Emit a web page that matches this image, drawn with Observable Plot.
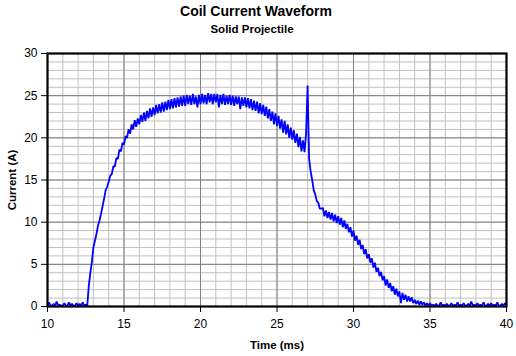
<!DOCTYPE html>
<html>
<head>
<meta charset="utf-8">
<script src="https://cdn.jsdelivr.net/npm/d3@7"></script>
<script src="https://cdn.jsdelivr.net/npm/@observablehq/plot@0.6"></script>
<style>
  html, body { margin: 0; padding: 0; background: #fff; }
  #wrap { width: 516px; height: 356px; position: relative; overflow: hidden; font-family: "Liberation Sans", Arial, sans-serif; }
  #head { position: relative; height: 40px; width: 516px; }
  #title { position: absolute; top: 3px; left: 0; width: 512px; text-align: center; font-weight: bold; font-size: 14px; line-height: 16px; }
  #subtitle { position: absolute; top: 22px; left: 0; width: 504px; text-align: center; font-weight: bold; font-size: 11.5px; line-height: 14px; }
  svg { display: block; }
</style>
</head>
<body>
<div id="wrap">
  <div id="head">
    <div id="title">Coil Current Waveform</div>
    <div id="subtitle">Solid Projectile</div>
  </div>
  <div id="chart"></div>
</div>
<script>
// Sampling: time starts at 10 ms, one reading every 0.1 ms
const tStart = 10;
const tStep = 0.1;
// Coil current (A), 10.0 ms ... 40.0 ms
const current = [
  0.1,0.5,0.1,0.1,0.3,0.1,0.6,0.1,0.2,0.1,
  0.1,0.4,0.1,0.1,0.5,0.1,0.3,0.1,0.1,0.4,
  0.1,0.3,0.1,0.5,0.1,0.2,0.1,2.5,4.0,5.3,
  7.0,7.8,8.6,9.6,10.2,11.0,11.9,12.8,13.8,14.2,
  14.8,15.5,15.7,16.6,16.6,17.6,17.5,18.6,18.4,19.4,
  19.2,20.2,20.0,21.0,20.5,21.6,21.0,22.1,21.3,22.3,
  21.6,22.7,21.9,23.0,22.0,23.2,22.3,23.5,22.5,23.6,
  22.7,23.9,22.9,24.0,23.0,24.2,23.1,24.3,23.3,24.5,
  23.4,24.6,23.5,24.7,23.6,24.8,23.7,24.9,23.8,25.0,
  23.8,25.1,24.0,25.0,23.9,25.2,24.0,24.9,23.6,25.1,
  24.0,25.2,24.1,25.1,24.0,25.3,24.2,25.2,24.0,25.2,
  24.2,25.2,23.6,25.1,24.0,25.2,23.9,25.0,24.0,25.1,
  23.9,25.0,23.8,24.9,24.0,24.9,23.4,24.8,23.8,24.8,
  23.6,24.7,23.5,24.6,23.3,24.4,23.2,24.3,22.9,24.1,
  22.8,23.9,22.6,23.7,22.3,23.4,22.0,23.1,21.6,22.9,
  21.4,22.6,21.1,22.2,20.6,22.0,20.4,21.6,20.0,21.2,
  19.8,20.9,19.4,20.5,18.9,20.1,18.4,19.7,18.3,20.5,
  26.2,17.5,16.0,15.0,13.8,13.3,12.5,12.3,11.6,11.6,
  11.7,10.7,11.4,10.5,11.2,10.3,11.1,10.1,10.9,9.9,
  10.7,9.7,10.5,9.4,10.2,9.2,9.8,8.8,9.4,8.3,
  9.0,7.8,8.4,7.3,7.9,6.8,7.3,6.2,6.8,5.7,
  6.2,5.2,5.7,4.6,5.2,4.1,4.6,3.6,4.1,3.1,
  3.6,2.5,3.2,2.2,2.8,1.8,2.4,1.4,2.1,1.2,
  1.8,0.4,1.6,0.8,1.4,0.6,1.2,0.6,1.1,0.4,
  0.8,0.3,0.7,0.2,0.6,0.2,0.5,0.1,0.4,0.1,
  0.4,0.1,0.2,0.1,0.3,0.1,0.1,0.5,0.1,0.2,
  0.1,0.3,0.1,0.1,0.4,0.1,0.2,0.1,0.5,0.1,
  0.2,0.1,0.4,0.1,0.1,0.3,0.1,0.6,0.1,0.2,
  0.1,0.4,0.1,0.2,0.1,0.5,0.1,0.1,0.3,0.1,
  0.4,0.1,0.2,0.1,0.5,0.1,0.1,0.3,0.1,0.4,
  0.2
];
const xTicks = [10, 15, 20, 25, 30, 35, 40];
const yTicks = [0, 5, 10, 15, 20, 25, 30];
const xMinor = d3.range(10, 41, 1);
const yMinor = d3.range(0, 31, 1);

const data = current.map((c, i) => ({t: +(tStart + i * tStep).toFixed(2), c}));

const chart = Plot.plot({
  width: 516,
  height: 316,
  marginTop: 13,
  marginBottom: 50,
  marginLeft: 47,
  marginRight: 10,
  style: {fontFamily: "'Liberation Sans', Arial, sans-serif", fontSize: "12px", color: "#000", background: "#fff"},
  x: {domain: [10, 40]},
  y: {domain: [0, 30]},
  marks: [
    Plot.ruleX(xMinor, {stroke: "#c0c0c0", strokeWidth: 1}),
    Plot.ruleY(yMinor, {stroke: "#c0c0c0", strokeWidth: 1}),
    Plot.ruleX(xTicks, {stroke: "#808080", strokeWidth: 1}),
    Plot.ruleY(yTicks, {stroke: "#808080", strokeWidth: 1}),
    Plot.line(data, {x: "t", y: "c", stroke: "#0000ff", strokeWidth: 1.8, strokeLinejoin: "miter"}),
    Plot.frame({stroke: "#000", strokeWidth: 2.2}),
    Plot.axisX({ticks: xTicks, tickSize: 6, tickPadding: 7, stroke: "#000", strokeWidth: 1, fontSize: 12,
      label: "Time (ms)", labelAnchor: "center", labelArrow: "none", labelOffset: 42}),
    Plot.axisY({ticks: yTicks, tickSize: 6, tickPadding: 4, stroke: "#000", strokeWidth: 1, fontSize: 12,
      label: "Current (A)", labelAnchor: "center", labelArrow: "none", labelOffset: 40})
  ]
});
chart.querySelectorAll("[aria-label='x-axis label'], [aria-label='y-axis label']").forEach(g => {
  g.setAttribute("font-weight", "bold");
  g.setAttribute("font-size", "11.5");
});
document.getElementById("chart").appendChild(chart);
</script>
</body>
</html>
